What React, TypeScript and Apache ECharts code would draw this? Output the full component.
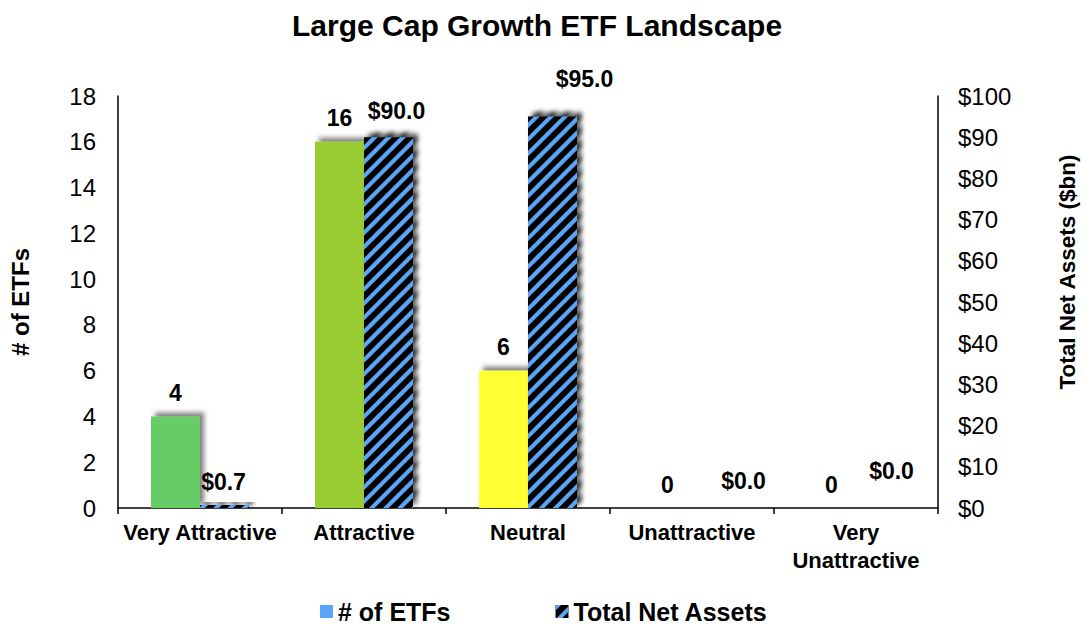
import React, { useEffect, useRef } from "react";
import * as echarts from "echarts";

const categories = ["Very Attractive", "Attractive", "Neutral", "Unattractive", "Very\nUnattractive"];
const etfCounts = [4, 16, 6, 0, 0];
const totalNetAssets = [0.7, 90.0, 95.0, 0.0, 0.0];
const leftTicks = { min: 0, max: 18, interval: 2 };
const rightTicks = { min: 0, max: 100, interval: 10 };
const seriesNames = ["# of ETFs", "Total Net Assets"];
const titleText = "Large Cap Growth ETF Landscape";
const leftAxisName = "# of ETFs";
const rightAxisName = "Total Net Assets ($bn)";

// styling (not data)
const ratingColors = ["#66CC66", "#99CC33", "#FFFF33", "#FF9933", "#FF3333"];
const tnaLabelOffsets: [number, number][] = [[-1, 0], [8, -3], [32, -14], [27, -4], [11, -14]];
const FONT = "'Liberation Sans', Arial, sans-serif";
const BLUE = "#5AA5F5";

export default function App() {
  const ref = useRef<HTMLDivElement>(null);
  useEffect(() => {
    if (!ref.current) return;
    const chart = echarts.init(ref.current, undefined, { renderer: "svg" });
    const shadow = {
      shadowBlur: 5,
      shadowColor: "rgba(0,0,0,0.5)",
      shadowOffsetX: 4,
      shadowOffsetY: -4,
    };
    chart.setOption({
      animation: false,
      backgroundColor: "#ffffff",
      textStyle: { fontFamily: FONT },
      title: {
        text: titleText,
        left: 287,
        top: 5,
        textStyle: { fontSize: 30, fontWeight: "bold", color: "#000", fontFamily: FONT },
      },
      legend: {
        left: 315,
        top: 594,
        itemWidth: 13,
        itemHeight: 13,
        itemGap: 105,
        icon: "rect",
        textStyle: { fontSize: 25, fontWeight: "bold", color: "#000", fontFamily: FONT },
        data: seriesNames,
      },
      grid: { left: 115, right: 145, top: 96, bottom: 119, containLabel: false },
      xAxis: {
        type: "category",
        data: categories,
        axisLine: { show: true, lineStyle: { color: "#000", width: 1.5 } },
        axisTick: { show: true, length: 6, lineStyle: { color: "#000", width: 1.5 } },
        axisLabel: {
          interval: 0,
          margin: 10,
          fontSize: 22,
          fontWeight: "bold",
          color: "#000",
          lineHeight: 28,
          fontFamily: FONT,
        },
        splitLine: { show: false },
      },
      yAxis: [
        {
          type: "value",
          min: leftTicks.min,
          max: leftTicks.max,
          interval: leftTicks.interval,
          name: leftAxisName,
          nameLocation: "middle",
          nameGap: 86,
          nameRotate: 90,
          nameTextStyle: { fontSize: 24, fontWeight: "bold", color: "#000", fontFamily: FONT },
          axisLine: { show: true, lineStyle: { color: "#000", width: 1.5 } },
          axisTick: { show: false },
          splitLine: { show: false },
          axisLabel: { fontSize: 24, color: "#000", margin: 22, fontFamily: FONT },
        },
        {
          type: "value",
          min: rightTicks.min,
          max: rightTicks.max,
          interval: rightTicks.interval,
          name: rightAxisName,
          nameLocation: "middle",
          nameGap: 118,
          nameRotate: 90,
          nameTextStyle: {
            fontSize: 22.5,
            fontWeight: "bold",
            color: "#000",
            fontFamily: FONT,
            padding: [0, 0, 0, 60],
          },
          axisLine: { show: true, lineStyle: { color: "#000", width: 1.5 } },
          axisTick: { show: false },
          splitLine: { show: false },
          axisLabel: {
            fontSize: 24,
            color: "#000",
            margin: 20,
            fontFamily: FONT,
            formatter: (v: number) => "$" + v,
          },
        },
      ],
      series: [
        {
          name: seriesNames[0],
          type: "bar",
          yAxisIndex: 0,
          barWidth: 49,
          barGap: "0%",
          color: BLUE,
          itemStyle: { color: BLUE, decal: "none", ...shadow },
          label: {
            show: true,
            position: "top",
            distance: 12,
            fontSize: 23,
            fontWeight: "bold",
            color: "#000",
            fontFamily: FONT,
          },
          data: etfCounts.map((v, i) => ({ value: v, itemStyle: { color: ratingColors[i] } })),
        },
        {
          name: seriesNames[1],
          type: "bar",
          yAxisIndex: 1,
          barWidth: 49,
          barGap: "0%",
          color: "#000",
          itemStyle: {
            color: "#000",
            ...shadow,
            decal: {
              symbol: "rect",
              symbolSize: 1,
              color: BLUE,
              dashArrayX: [1, 0],
              dashArrayY: [3.5, 6],
              rotation: -Math.PI / 4,
            },
          },
          label: {
            show: true,
            position: "top",
            distance: 12,
            fontSize: 23,
            fontWeight: "bold",
            color: "#000",
            fontFamily: FONT,
            formatter: (p: any) => "$" + Number(p.value).toFixed(1),
          },
          data: totalNetAssets.map((v, i) => ({ value: v, label: { offset: tnaLabelOffsets[i] } })),
        },
      ],
    });
    return () => chart.dispose();
  }, []);
  return (
    <div
      ref={ref}
      style={{ position: "fixed", left: 0, top: 0, width: 1087, height: 627, background: "#fff" }}
    />
  );
}
